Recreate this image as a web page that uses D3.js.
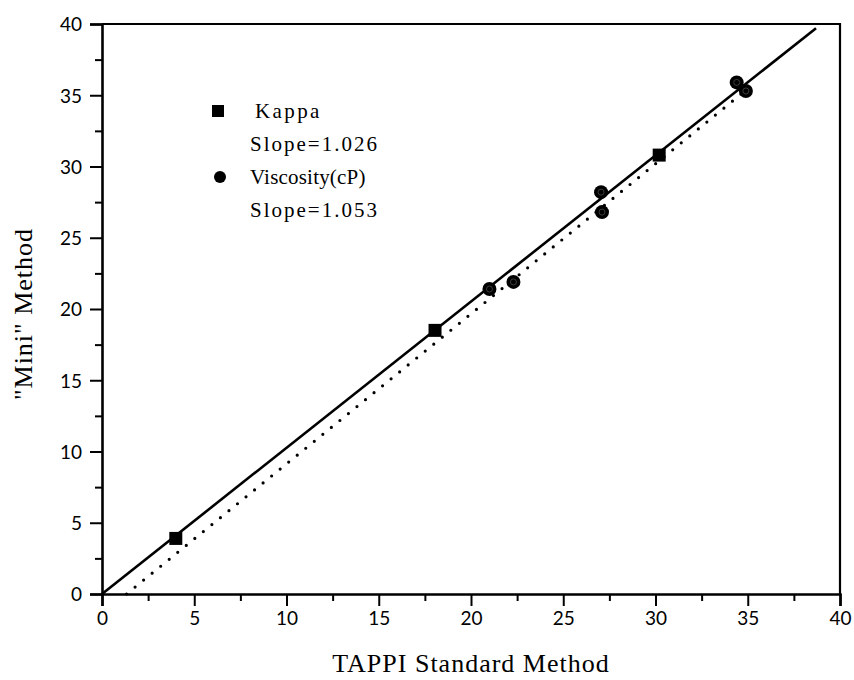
<!DOCTYPE html>
<html>
<head>
<meta charset="utf-8">
<script src="https://cdn.jsdelivr.net/npm/d3@7"></script>
<style>
  html, body { margin: 0; padding: 0; background: #fff; }
  svg { display: block; }
</style>
</head>
<body>
<svg id="chart" width="854" height="680"></svg>
<script>
// Kappa number: Mini method vs TAPPI standard
const kappaX = [4.0, 18.05, 30.2];
const kappaY = [3.9, 18.5, 30.8];

// Viscosity (cP): Mini method vs TAPPI standard
const viscX = [21.0, 22.3, 27.05, 27.1, 34.4, 34.9];
const viscY = [21.4, 21.9, 28.2, 26.8, 35.9, 35.3];

// Regression lines: slope, intercept, x-range drawn
const kappaFit = { slope: 1.026, intercept: 0.0, x0: 0, x1: 38.7 };
const viscFit  = { slope: 1.053, intercept: -1.4, x0: 1.33, x1: 35.0 };

const xTicks = [0, 5, 10, 15, 20, 25, 30, 35, 40];
const yTicks = [0, 5, 10, 15, 20, 25, 30, 35, 40];
const minorTicks = [2.5, 7.5, 12.5, 17.5, 22.5, 27.5, 32.5, 37.5];

const legendItems = [
  { label: "Kappa", slope: "Slope=1.026" },
  { label: "Viscosity(cP)", slope: "Slope=1.053" }
];

const svg = d3.select("#chart");
const plotLeft = 102, plotRight = 840, plotTop = 24, plotBottom = 594;

const x = d3.scaleLinear().domain([0, 40]).range([plotLeft, plotRight]);
const y = d3.scaleLinear().domain([0, 40]).range([plotBottom, plotTop]);

const tickFont = "Lato, 'Open Sans', sans-serif";
const serif = "'Liberation Serif', 'Times New Roman', serif";

// Frame: top and right edges
svg.append("path")
  .attr("d", `M${plotLeft},${plotTop}H${plotRight}V${plotBottom}`)
  .attr("fill", "none").attr("stroke", "#000").attr("stroke-width", 2.2);

// X axis (major + minor ticks pointing down)
const xAxis = svg.append("g").attr("transform", `translate(0,${plotBottom})`)
  .call(d3.axisBottom(x).tickValues(xTicks).tickFormat(d3.format("d")).tickSize(12).tickPadding(6));
svg.append("g").attr("transform", `translate(0,${plotBottom})`)
  .call(d3.axisBottom(x).tickValues(minorTicks).tickFormat("").tickSize(7))
  .call(g => g.select(".domain").remove());

// Y axis (major + minor ticks pointing left)
const yAxis = svg.append("g").attr("transform", `translate(${plotLeft},0)`)
  .call(d3.axisLeft(y).tickValues(yTicks).tickFormat(d3.format("d")).tickSize(12).tickPadding(8));
svg.append("g").attr("transform", `translate(${plotLeft},0)`)
  .call(d3.axisLeft(y).tickValues(minorTicks).tickFormat("").tickSize(7))
  .call(g => g.select(".domain").remove());

svg.selectAll(".domain").attr("stroke-width", 2.6).attr("stroke", "#000");
svg.selectAll(".tick line").attr("stroke-width", 2).attr("stroke", "#000");
svg.selectAll(".tick text")
  .attr("font-family", tickFont).attr("font-size", 19).attr("fill", "#000");
yAxis.selectAll(".tick text").attr("dy", "0.36em");

// Regression lines
const fitLine = d3.line().x(d => x(d[0])).y(d => y(d[1]));
const fitPts = f => [[f.x0, f.slope * f.x0 + f.intercept], [f.x1, f.slope * f.x1 + f.intercept]];

svg.append("path").datum(fitPts(viscFit))
  .attr("d", fitLine).attr("fill", "none").attr("stroke", "#000")
  .attr("stroke-width", 3.2).attr("stroke-linecap", "round")
  .attr("stroke-dasharray", "0 11");

svg.append("path").datum(fitPts(kappaFit))
  .attr("d", fitLine).attr("fill", "none").attr("stroke", "#000")
  .attr("stroke-width", 2.6);

// Viscosity markers
const visc = svg.append("g");
viscX.forEach((vx, i) => {
  visc.append("circle").attr("cx", x(vx)).attr("cy", y(viscY[i])).attr("r", 7).attr("fill", "#000");
  visc.append("circle").attr("cx", x(vx)).attr("cy", y(viscY[i])).attr("r", 3)
    .attr("fill", "none").attr("stroke", "#555").attr("stroke-width", 0.7);
});

// Kappa markers
const sq = 13;
svg.append("g").selectAll("rect").data(kappaX).join("rect")
  .attr("x", (d) => x(d) - sq / 2)
  .attr("y", (d, i) => y(kappaY[i]) - sq / 2)
  .attr("width", sq).attr("height", sq).attr("fill", "#000");

// Legend
const lg = svg.append("g").attr("font-family", serif).attr("font-size", 21).attr("fill", "#000");
lg.append("rect").attr("x", 212).attr("y", 105).attr("width", 12).attr("height", 12).attr("fill", "#000");
lg.append("text").attr("x", 255).attr("y", 118).attr("letter-spacing", 2.4).text(legendItems[0].label);
lg.append("text").attr("x", 250).attr("y", 151).attr("letter-spacing", 2).text(legendItems[0].slope);
lg.append("circle").attr("cx", 220).attr("cy", 177).attr("r", 6).attr("fill", "#000");
lg.append("text").attr("x", 250).attr("y", 184).attr("letter-spacing", 0.2).text(legendItems[1].label);
lg.append("text").attr("x", 250).attr("y", 217).attr("letter-spacing", 2).text(legendItems[1].slope);

// Axis titles
svg.append("text")
  .attr("x", 471).attr("y", 672).attr("text-anchor", "middle")
  .attr("font-family", serif).attr("font-size", 26).attr("letter-spacing", 1)
  .text("TAPPI Standard Method");

svg.append("text")
  .attr("transform", "translate(32,314) rotate(-90)")
  .attr("text-anchor", "middle")
  .attr("font-family", serif).attr("font-size", 26).attr("letter-spacing", 1)
  .text("\"Mini\" Method");
</script>
</body>
</html>
